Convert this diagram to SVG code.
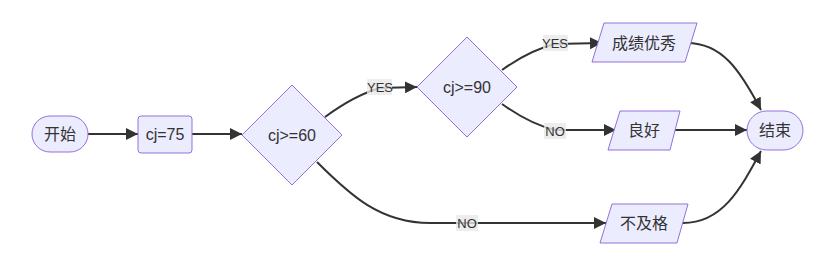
<svg xmlns="http://www.w3.org/2000/svg" width="834" height="260" viewBox="0 0 834 260">
<style>
.node{fill:#ECECFF;stroke:#9370DB;stroke-width:1}
.lbl{font-family:"Liberation Sans","Noto Sans CJK SC",sans-serif;font-size:16px;fill:#333;text-anchor:middle;dominant-baseline:central}
.edge{fill:none;stroke:#333;stroke-width:2}
.elbl{font-family:"Liberation Sans","Noto Sans CJK SC",sans-serif;font-size:13px;fill:#333;text-anchor:middle;dominant-baseline:central}
.ebg{fill:#e8e8e8;opacity:0.8}
</style>
<defs>
<marker id="arr" viewBox="0 0 10 10" refX="10" refY="5" markerWidth="12" markerHeight="12" markerUnits="userSpaceOnUse" orient="auto">
<path d="M0,0 L10,5 L0,10 z" fill="#333"/>
</marker>
</defs>
<rect width="834" height="260" fill="#fff"/>
<g id="connectors">
<path class="edge" d="M88,134 L138,134" marker-end="url(#arr)"/>
<path class="edge" d="M192,134 L242,134" marker-end="url(#arr)"/>
<path class="edge" d="M325,117 Q355,95 380,88 L417,87" marker-end="url(#arr)"/>
<path class="edge" d="M502,70 Q530,50 555,44 L602,43" marker-end="url(#arr)"/>
<path class="edge" d="M502,104 Q530,124 555,130 L616,130" marker-end="url(#arr)"/>
<path class="edge" d="M317,162 C350,195 380,223 430,223 L606,223" marker-end="url(#arr)"/>
<path class="edge" d="M687,43 C722,43 740,70 761,110" marker-end="url(#arr)"/>
<path class="edge" d="M675,130 L747,130" marker-end="url(#arr)"/>
<path class="edge" d="M683,223 C722,223 740,190 761,151" marker-end="url(#arr)"/>
<g id="label-yes1"><rect class="ebg" x="367" y="79" width="25" height="16"/><text class="elbl" x="380" y="87">YES</text></g>
<g id="label-yes2"><rect class="ebg" x="543" y="35" width="25" height="16"/><text class="elbl" x="555" y="43">YES</text></g>
<g id="label-no1"><rect class="ebg" x="544" y="123" width="22" height="16"/><text class="elbl" x="555" y="131">NO</text></g>
<g id="label-no2"><rect class="ebg" x="456" y="215" width="22" height="16"/><text class="elbl" x="467" y="223">NO</text></g>
</g>
<g id="start"><rect class="node" x="32" y="116" width="56" height="36" rx="18"/><text class="lbl" x="60" y="134">开始</text></g>
<g id="assign"><rect class="node" x="138" y="116" width="54" height="37" rx="3"/><text class="lbl" x="165" y="134">cj=75</text></g>
<g id="dec60"><polygon class="node" points="292,85 342,135 292,185 242,135"/><text class="lbl" x="292" y="135">cj&gt;=60</text></g>
<g id="dec90"><polygon class="node" points="467,37 517,87 467,137 417,87"/><text class="lbl" x="467" y="87">cj&gt;=90</text></g>
<g id="excellent"><polygon class="node" points="604,23 697,23 685,62 592,62"/><text class="lbl" x="644" y="43">成绩优秀</text></g>
<g id="good"><polygon class="node" points="620,111 680,111 670,150 608,150"/><text class="lbl" x="644" y="130">良好</text></g>
<g id="fail"><polygon class="node" points="612,204 688,204 677,243 600,243"/><text class="lbl" x="644" y="223">不及格</text></g>
<g id="end"><rect class="node" x="747" y="111" width="56" height="39" rx="19.5"/><text class="lbl" x="775" y="130">结束</text></g>
</svg>
